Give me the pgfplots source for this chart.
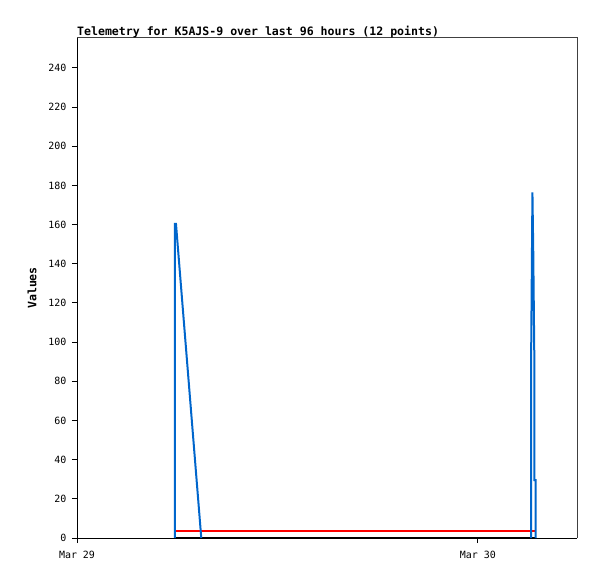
\documentclass[border=0pt]{standalone}
\usepackage{pgfplots}
\pgfplotsset{compat=1.18}
\usepackage{fontspec}
\setmainfont{DejaVu Sans Mono}
\setmonofont{DejaVu Sans Mono}
\definecolor{tblue}{HTML}{0066CC}
\definecolor{framegray}{HTML}{404040}
\begin{document}
\begin{tikzpicture}
\useasboundingbox (-77bp,-41bp) rectangle (520bp,538bp);
\begin{axis}[
  scale only axis, width=500bp, height=500bp,
  at={(0,0)}, anchor=south west,
  xmin=0, xmax=29.93, ymin=0, ymax=255.3,
  axis line style={draw=none},
  clip=false,
  xtick={0,24}, xticklabels={Mar 29, Mar 30},
  ytick={0,20,...,240},
  tick pos=left, tick align=outside,
  major tick length=5bp,
  tick style={black, line width=1bp},
  /pgf/number format/assume math mode=true,
  ticklabel style={font=\fontsize{10}{12}\selectfont},
  xticklabel style={yshift=-5bp},
  yticklabel style={xshift=-2bp},
  title={\textbf{Telemetry for K5AJS-9 over last 96 hours (12 points)}},
  title style={at={(axis description cs:0,1)}, anchor=base west, yshift=-3bp, inner sep=0pt, font=\fontsize{11.6}{13}\selectfont},
  ylabel={\textbf{Values}},
  ylabel style={at={(axis description cs:-0.09,0.5)}, anchor=center, font=\fontsize{11.6}{13}\selectfont},
]
\draw[black, line width=1bp] (rel axis cs:0,1) -- (rel axis cs:0,0) -- (rel axis cs:1,0);
\draw[framegray, line width=1bp] (rel axis cs:0,1) -- (rel axis cs:1,1) -- (rel axis cs:1,0);
% red series
\addplot[red, line width=2bp, mark=none] coordinates {(5.865,3.7) (27.44,3.7)};
% black series
\addplot[black, line width=2bp, mark=none] coordinates {(5.823,0) (27.47,0)};
% blue series, first group
\addplot[tblue, line width=2bp, mark=none] coordinates {
(5.865,0) (5.865,160.4) (5.925,160.4) (7.439,0)};
% blue series, second group
\addplot[tblue, line width=2bp, mark=none] coordinates {
(27.18,0) (27.18,88) (27.262,176.5) (27.31,147) (27.38,88) (27.385,29.6) (27.45,29.6) (27.45,0)};
\end{axis}
\end{tikzpicture}
\end{document}
